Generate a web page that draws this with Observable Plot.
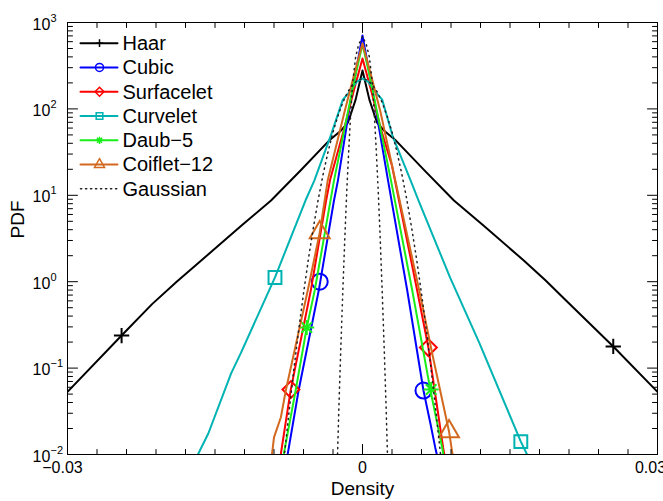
<!DOCTYPE html>
<html>
<head>
<meta charset="utf-8">
<script src="https://cdn.jsdelivr.net/npm/d3@7"></script>
<script src="https://cdn.jsdelivr.net/npm/@observablehq/plot@0.6"></script>
<style>
html,body{margin:0;padding:0;background:#fff;}
#chart{width:663px;height:501px;overflow:hidden;}
</style>
</head>
<body>
<div id="chart"></div>
<script>
// ---------------- data ----------------
const legendLabels = ["Haar", "Cubic", "Surfacelet", "Curvelet", "Daub\u22125", "Coiflet\u221212", "Gaussian"];

const haarX = [-0.030, -0.0245, -0.0214, -0.0189, -0.0164, -0.0123, -0.0093, -0.0063, -0.0034, -0.0022, -0.0015, -0.0012, -0.0007, 0, 0.0007, 0.0012, 0.0015, 0.0022, 0.0034, 0.0063, 0.0093, 0.0123, 0.0164, 0.0186, 0.0207, 0.0255, 0.030];
const haarY = [0.053, 0.238, 0.55, 1.0, 1.76, 4.47, 8.7, 19.4, 43, 56, 69, 86, 128, 278, 128, 86, 69, 56, 43, 19.4, 8.7, 4.47, 1.76, 1.04, 0.605, 0.178, 0.053];
const haarMarkX = [-0.0245, 0.0255];
const haarMarkY = [0.238, 0.178];

const cubicX = [-0.0078, -0.0076, -0.0065, -0.00445, -0.0029, -0.0025, -0.0012, -0.0005, 0, 0.0005, 0.0012, 0.0026, 0.00455, 0.0062, 0.0069, 0.0074, 0.0077];
const cubicY = [0.0085, 0.0102, 0.055, 0.79, 8.7, 14.8, 125, 344, 708, 344, 125, 14.8, 0.79, 0.055, 0.023, 0.012, 0.0085];
const cubicMarkX = [-0.00435, 0.0062];
const cubicMarkY = [1.0, 0.055];

const surfX = [-0.0086, -0.0083, -0.0073, -0.00526, -0.0037, -0.0033, -0.0019, -0.0009, 0, 0.0009, 0.0019, 0.0030, 0.00556, 0.0067, 0.0082, 0.0086];
const surfY = [0.0075, 0.0102, 0.056, 0.79, 8.7, 15, 57, 160, 383, 160, 57, 22, 0.79, 0.173, 0.012, 0.0065];
const surfMarkX = [-0.00728, 0.0067];
const surfMarkY = [0.0565, 0.173];

const curvX = [-0.0169, -0.0167, -0.01568, -0.01336, -0.01234, -0.0089, -0.0058, -0.0049, -0.0032, -0.0020, -0.0012, -0.0006, 0, 0.0006, 0.0012, 0.0020, 0.0031, 0.0049, 0.0057, 0.0089, 0.0119, 0.0161, 0.0167, 0.0169];
const curvY = [0.0085, 0.0102, 0.0175, 0.087, 0.152, 1.12, 8.7, 14.8, 50, 128, 163, 205, 225, 205, 163, 128, 47, 14.8, 8.7, 1.12, 0.193, 0.0141, 0.0102, 0.0085];
const curvMarkX = [-0.0089, 0.0161];
const curvMarkY = [1.12, 0.0141];

const daubX = [-0.0083, -0.0080, -0.0068, -0.00567, -0.00486, -0.0029, -0.0015, -0.0007, 0, 0.0007, 0.0015, 0.0029, 0.00506, 0.0069, 0.0081, 0.0084];
const daubY = [0.0075, 0.0102, 0.055, 0.295, 0.79, 14.8, 90, 250, 560, 250, 90, 14.8, 0.79, 0.056, 0.012, 0.0075];
const daubMarkX = [-0.00567, 0.00698];
const daubMarkY = [0.295, 0.0565];

const coifX = [-0.0093, -0.0092, -0.0090, -0.0083, -0.0078, -0.00557, -0.00435, -0.00354, -0.0018, -0.0008, 0, 0.0008, 0.0018, 0.00334, 0.00577, 0.00718, 0.0088, 0.0091, 0.0094];
const coifY = [0.0085, 0.0102, 0.0158, 0.027, 0.055, 0.79, 3.7, 14.8, 95, 263, 571, 263, 95, 14.8, 0.79, 0.132, 0.0185, 0.011, 0.0075];
const coifMarkX = [-0.00435, 0.0088];
const coifMarkY = [3.7, 0.0185];

const gaussWideX = [-0.0082, -0.0080, -0.0075, -0.0070, -0.0065, -0.0060, -0.0055, -0.0050, -0.0045, -0.0040, -0.0035, -0.0030, -0.0025, -0.0020, -0.0015, -0.0010, -0.0005, 0, 0.0005, 0.0010, 0.0015, 0.0020, 0.0025, 0.0030, 0.0035, 0.0040, 0.0045, 0.0050, 0.0055, 0.0060, 0.0065, 0.0070, 0.0075, 0.0080, 0.0082];
const gaussWideY = [0.0051, 0.0086, 0.029, 0.093, 0.27, 0.73, 1.83, 4.2, 9.0, 17.6, 32, 54, 83, 119, 157, 191, 215, 224, 215, 191, 157, 119, 83, 54, 32, 17.6, 9.0, 4.2, 1.83, 0.73, 0.27, 0.093, 0.029, 0.0086, 0.0051];

const gaussNarrowX = [-0.0026, -0.0024, -0.0022, -0.0020, -0.0018, -0.0016, -0.0014, -0.0012, -0.0010, -0.0007, -0.0004, 0, 0.0004, 0.0007, 0.0010, 0.0012, 0.0014, 0.0016, 0.0018, 0.0020, 0.0022, 0.0024, 0.0026];
const gaussNarrowY = [0.0056, 0.0355, 0.178, 0.79, 3.16, 11.2, 33, 89, 200, 398, 550, 692, 550, 398, 200, 89, 33, 11.2, 3.16, 0.79, 0.178, 0.0355, 0.0056];

// axis ticks and labels
const xTickValues = [-0.03, -0.027, -0.024, -0.021, -0.018, -0.015, -0.012, -0.009, -0.006, -0.003, 0, 0.003, 0.006, 0.009, 0.012, 0.015, 0.018, 0.021, 0.024, 0.027, 0.03];
const xMajorTicks = [-0.03, 0, 0.03];
const xTickLabels = ["\u22120.03", "0", "0.03"];
const yDecades = [0.01, 0.1, 1, 10, 100, 1000];
const yExponents = ["\u22122", "\u22121", "0", "1", "2", "3"];
const yMinorMultipliers = [2, 3, 4, 5, 6, 7, 8, 9];

// ---------------- styles ----------------
const M = {top: 22, right: 6, bottom: 47, left: 67};
const tickShape = {draw(ctx, l) { ctx.moveTo(0, 0); ctx.lineTo(0, -l); }};
const starSym = {draw(ctx, size) {
  const h = Math.sqrt(size / Math.PI), d = h * Math.SQRT1_2;
  ctx.moveTo(-h, 0); ctx.lineTo(h, 0);
  ctx.moveTo(0, -h); ctx.lineTo(0, h);
  ctx.moveTo(-d, -d); ctx.lineTo(d, d);
  ctx.moveTo(-d, d); ctx.lineTo(d, -d);
}};

const rows = (xs, ys) => xs.map((x, i) => ({x, y: ys[i]}));

const series = [
  {label: legendLabels[0], color: "#000000", xs: haarX, ys: haarY, mx: haarMarkX, my: haarMarkY, symbol: "plus", r: 5, lr: 2.6},
  {label: legendLabels[1], color: "#0000ff", xs: cubicX, ys: cubicY, mx: cubicMarkX, my: cubicMarkY, symbol: "circle", r: 8, lr: 4},
  {label: legendLabels[2], color: "#ff0000", xs: surfX, ys: surfY, mx: surfMarkX, my: surfMarkY, symbol: "diamond2", r: 7.6, lr: 4},
  {label: legendLabels[3], color: "#00b3b3", xs: curvX, ys: curvY, mx: curvMarkX, my: curvMarkY, symbol: "square2", r: 8.2, lr: 4.2},
  {label: legendLabels[4], color: "#1aee1a", xs: daubX, ys: daubY, mx: daubMarkX, my: daubMarkY, symbol: starSym, r: 7.5, lr: 3.6},
  {label: legendLabels[5], color: "#d2691e", xs: coifX, ys: coifY, mx: coifMarkX, my: coifMarkY, symbol: "triangle2", r: 9.5, lr: 4.8}
];

const marks = [];

series.forEach(s => {
  marks.push(Plot.line(rows(s.xs, s.ys), {x: "x", y: "y", stroke: s.color, strokeWidth: 2, clip: true}));
  marks.push(Plot.dot(rows(s.mx, s.my), {x: "x", y: "y", symbol: s.symbol, r: s.r, stroke: s.color, strokeWidth: 2, fill: "none"}));
});

const gaussStyle = {x: "x", y: "y", stroke: "#222", strokeWidth: 1.5, strokeDasharray: "1.2 4.3", clip: true};
marks.push(Plot.line(rows(gaussWideX, gaussWideY), gaussStyle));
marks.push(Plot.line(rows(gaussNarrowX, gaussNarrowY), gaussStyle));

// frame and inward ticks on all four sides
marks.push(Plot.frame({stroke: "black", strokeWidth: 1}));
const xMinor = xTickValues.filter(v => !xMajorTicks.includes(v));
const yMinor = yDecades.slice(0, -1).flatMap(d => yMinorMultipliers.map(m => m * d));
const tk = {anchor: "start", shape: tickShape, stroke: "black", strokeWidth: 1};
marks.push(Plot.vector(xMinor, {...tk, x: d => d, frameAnchor: "bottom", rotate: 0, length: 5}));
marks.push(Plot.vector(xMajorTicks, {...tk, x: d => d, frameAnchor: "bottom", rotate: 0, length: 10}));
marks.push(Plot.vector(xMinor, {...tk, x: d => d, frameAnchor: "top", rotate: 180, length: 5}));
marks.push(Plot.vector(xMajorTicks, {...tk, x: d => d, frameAnchor: "top", rotate: 180, length: 10}));
marks.push(Plot.vector(yMinor, {...tk, y: d => d, frameAnchor: "left", rotate: 90, length: 5}));
marks.push(Plot.vector(yDecades, {...tk, y: d => d, frameAnchor: "left", rotate: 90, length: 10}));
marks.push(Plot.vector(yMinor, {...tk, y: d => d, frameAnchor: "right", rotate: -90, length: 5}));
marks.push(Plot.vector(yDecades, {...tk, y: d => d, frameAnchor: "right", rotate: -90, length: 10}));

// tick labels
const xLabelShift = [-5, 0, -7];
xMajorTicks.forEach((v, i) => {
  marks.push(Plot.text([v], {x: d => d, frameAnchor: "bottom", lineAnchor: "middle", dx: xLabelShift[i], dy: 13,
    text: () => xTickLabels[i], fontSize: 16, fill: "black"}));
});
marks.push(Plot.text(yDecades, {y: d => d, frameAnchor: "left", lineAnchor: "middle", dx: -35, dy: 2, text: () => "10", textAnchor: "start", fontSize: 16, fill: "black"}));
marks.push(Plot.text(yDecades, {y: d => d, frameAnchor: "left", lineAnchor: "middle", dx: -17, dy: -4.5, text: (d, i) => yExponents[i], textAnchor: "start", fontSize: 11, fill: "black"}));

// axis titles
marks.push(Plot.text(["Density"], {frameAnchor: "bottom", lineAnchor: "middle", dy: 34, text: d => d, fontSize: 19, fill: "black"}));
marks.push(Plot.text(["PDF"], {frameAnchor: "left", lineAnchor: "middle", dx: -50, rotate: -90, text: d => d, fontSize: 19, fill: "black"}));

// legend (inside the axes, top-left)
const legendItems = [...series.map(s => ({label: s.label, color: s.color, symbol: s.symbol, lr: s.lr})),
  {label: legendLabels[6], color: "#222", dash: "1.2 3.8"}];
legendItems.forEach((it, i) => {
  const dy = 42.7 + 24.27 * i - M.top;
  marks.push(Plot.vector([0], {frameAnchor: "top-left", dx: 13, dy, rotate: 90, length: 37, anchor: "start", shape: tickShape,
    stroke: it.color, strokeWidth: it.dash ? 1.5 : 2, strokeDasharray: it.dash || null}));
  if (it.symbol) marks.push(Plot.dot([0], {frameAnchor: "top-left", dx: 32, dy, symbol: it.symbol, r: it.lr, stroke: it.color, strokeWidth: 1.5, fill: "none"}));
  marks.push(Plot.text([it.label], {frameAnchor: "top-left", lineAnchor: "middle", dx: 55, dy: dy + 0.5, text: d => d, textAnchor: "start", fontSize: 20, fill: "black"}));
});

const chart = Plot.plot({
  width: 663,
  height: 501,
  marginTop: M.top, marginRight: M.right, marginBottom: M.bottom, marginLeft: M.left,
  x: {domain: [-0.03, 0.03], axis: null},
  y: {type: "log", domain: [0.01, 1000], axis: null},
  style: {fontFamily: "'Liberation Sans', Arial, Helvetica, sans-serif", background: "#fff", color: "black"},
  marks
});
document.getElementById("chart").appendChild(chart);
</script>
</body>
</html>
